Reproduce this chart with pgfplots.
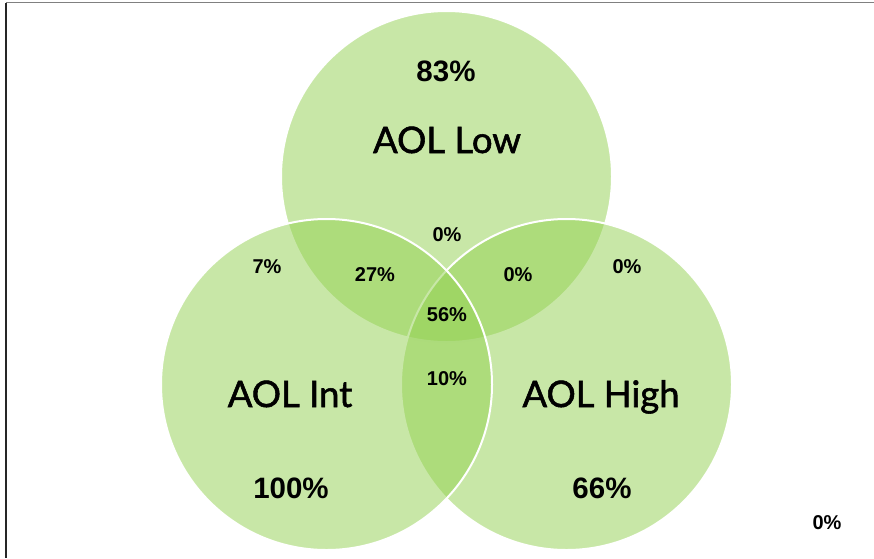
\documentclass[border=0pt]{standalone}
\usepackage{pgfplots}
\pgfplotsset{compat=1.18}
\usepackage{pgfplotstable}
\usepackage{fontspec}
\setmainfont{Liberation Sans}
\newfontfamily\lato[FakeBold=1.5]{Lato}

\definecolor{venngreen}{HTML}{92D050}
\definecolor{framegray}{HTML}{808080}

% circle centres (drawn in this order: Low, High, Int)
\pgfplotstableread{
x     y
446.5 176.5
566.5 384.5
326.5 384.5
}\centres

\newcommand{\bigpct}[1]{\fontsize{29.5}{30}\selectfont\bfseries #1}
\newcommand{\smpct}[1]{\fontsize{20}{21}\selectfont\bfseries #1}
\newcommand{\setname}[1]{\lato\fontsize{36.5}{38}\selectfont #1}

\begin{document}
\begin{tikzpicture}
\useasboundingbox (0,0) rectangle (874pt,558pt);
\begin{axis}[
  at={(0,0)}, anchor=south west,
  width=874pt, height=558pt, scale only axis,
  xmin=0, xmax=874, ymin=0, ymax=558, y dir=reverse,
  hide axis, clip=false,
]
% frame
\draw[framegray, line width=1.5pt] (axis cs:6,2.5) -- (axis cs:874,2.5);
\draw[black!85, line width=1.3pt] (axis cs:6,2.5) -- (axis cs:6,558);

% the three sets
\addplot[only marks, mark=*, mark size=165.5pt,
  mark options={fill=venngreen, fill opacity=0.5, draw=white, draw opacity=1, line width=2pt}]
  table {\centres};

% label anchors
\coordinate (nLow)  at (axis cs:447,153);
\coordinate (nInt)  at (axis cs:290,407);
\coordinate (nHigh) at (axis cs:601,407);
\coordinate (pLow)  at (axis cs:446,82);
\coordinate (pInt)  at (axis cs:291,498);
\coordinate (pHigh) at (axis cs:602,498);
\coordinate (a) at (axis cs:447,241);
\coordinate (b) at (axis cs:375,281);
\coordinate (c) at (axis cs:518,281);
\coordinate (d) at (axis cs:447,321);
\coordinate (e) at (axis cs:447,385);
\coordinate (f) at (axis cs:267,273);
\coordinate (g) at (axis cs:627,273);
\coordinate (h) at (axis cs:827,529);
\end{axis}

% set names
\node[anchor=base] at (nLow)  {\setname{AOL Low}};
\node[anchor=base] at (nInt)  {\setname{AOL Int}};
\node[anchor=base] at (nHigh) {\setname{AOL High}};

% shares
\node[anchor=base] at (pLow)  {\bigpct{83\%}};
\node[anchor=base] at (pInt)  {\bigpct{100\%}};
\node[anchor=base] at (pHigh) {\bigpct{66\%}};

\node[anchor=base] at (a) {\smpct{0\%}};
\node[anchor=base] at (b) {\smpct{27\%}};
\node[anchor=base] at (c) {\smpct{0\%}};
\node[anchor=base] at (d) {\smpct{56\%}};
\node[anchor=base] at (e) {\smpct{10\%}};
\node[anchor=base] at (f) {\smpct{7\%}};
\node[anchor=base] at (g) {\smpct{0\%}};
\node[anchor=base] at (h) {\smpct{0\%}};
\end{tikzpicture}
\end{document}
